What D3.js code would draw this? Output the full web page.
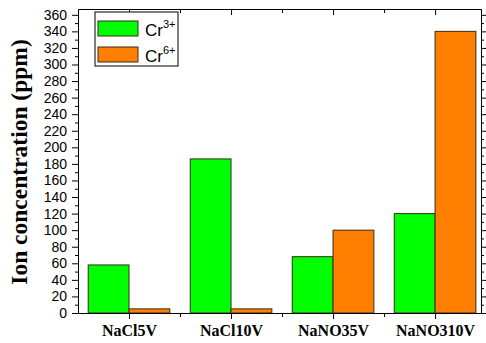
<!DOCTYPE html>
<html>
<head>
<meta charset="utf-8">
<script src="https://cdn.jsdelivr.net/npm/d3@7"></script>
<style>
  body { margin: 0; background: #fff; }
  .tick text { font-family: "Liberation Sans", Arial, sans-serif; font-size: 14px; }
</style>
</head>
<body>
<div id="chart"></div>
<script>
const categories = ['NaCl5V', 'NaCl10V', 'NaNO35V', 'NaNO310V'];
const cr3 = [58, 186, 68, 120];
const cr6 = [5, 5, 100, 340];
const yTicks = d3.range(0, 361, 20);

const width = 486;
const height = 343;
const margin = { left: 78, right: 5, top: 9, bottom: 30 };

const svg = d3.select('#chart')
  .append('svg')
  .attr('width', width)
  .attr('height', height);

// x is continuous so ticks fall on the category centres and halfway between
const x = d3.scaleLinear()
  .domain([-0.5, 3.45])
  .range([margin.left, width - margin.right]);

const y = d3.scaleLinear()
  .domain([0, 367])
  .range([height - margin.bottom, margin.top]);

const bw = x(0.4) - x(0);

// bars
const series = [
  { name: '3+', values: cr3, color: '#00ff00', off: -0.4 },
  { name: '6+', values: cr6, color: '#ff8000', off: 0 },
];

series.forEach(function(s) {
  svg.append('g')
    .selectAll('rect')
    .data(s.values)
    .enter().append('rect')
      .attr('x', function(d, i) { return x(i + s.off); })
      .attr('y', function(d) { return y(d); })
      .attr('width', bw)
      .attr('height', function(d) { return y(0) - y(d); })
      .attr('fill', s.color)
      .attr('stroke', '#3a2a1a')
      .attr('stroke-width', 1);
});

// axes
const yMinor = d3.range(10, 361, 20);
const xMajor = d3.range(0, categories.length);
const xMinor = [0.5, 1.5, 2.5];

svg.append('g')
  .attr('transform', 'translate(' + margin.left + ',0)')
  .call(d3.axisLeft(y).tickValues(yTicks).tickSize(6).tickPadding(5).tickSizeOuter(0))
  .call(function(g) { g.select('.domain').attr('stroke', '#000'); });

svg.append('g')
  .attr('transform', 'translate(' + margin.left + ',0)')
  .call(d3.axisLeft(y).tickValues(yMinor).tickSize(3).tickFormat('').tickSizeOuter(0))
  .call(function(g) { g.select('.domain').remove(); });

const xr = width - margin.right;
svg.append('g')
  .attr('transform', 'translate(' + xr + ',0)')
  .call(d3.axisRight(y).tickValues(yTicks).tickSize(5).tickFormat('').tickSizeOuter(0));
svg.append('g')
  .attr('transform', 'translate(' + xr + ',0)')
  .call(d3.axisRight(y).tickValues(yMinor).tickSize(3).tickFormat('').tickSizeOuter(0))
  .call(function(g) { g.select('.domain').remove(); });

const yb = height - margin.bottom;
svg.append('g')
  .attr('transform', 'translate(0,' + yb + ')')
  .call(d3.axisBottom(x).tickValues(xMajor).tickSize(6).tickPadding(6).tickSizeOuter(0)
    .tickFormat(function(d) { return categories[d]; }))
  .call(function(g) {
    g.selectAll('text')
      .style('font-family', '"Liberation Serif", "Times New Roman", serif')
      .style('font-size', '16px')
      .style('font-weight', 'bold');
  });
svg.append('g')
  .attr('transform', 'translate(0,' + yb + ')')
  .call(d3.axisBottom(x).tickValues(xMinor).tickSize(4).tickFormat('').tickSizeOuter(0))
  .call(function(g) { g.select('.domain').remove(); });

svg.append('g')
  .attr('transform', 'translate(0,' + margin.top + ')')
  .call(d3.axisBottom(x).tickValues(xMajor).tickSize(6).tickFormat('').tickSizeOuter(0));
svg.append('g')
  .attr('transform', 'translate(0,' + margin.top + ')')
  .call(d3.axisBottom(x).tickValues(xMinor).tickSize(4).tickFormat('').tickSizeOuter(0))
  .call(function(g) { g.select('.domain').remove(); });

// y title
svg.append('text')
  .attr('transform', 'translate(27,162) rotate(-90)')
  .attr('text-anchor', 'middle')
  .style('font-family', '"Liberation Serif", "Times New Roman", serif')
  .style('font-size', '23.5px')
  .style('font-weight', 'bold')
  .text('Ion concentration (ppm)');

// legend
const legend = svg.append('g').attr('transform', 'translate(95,12)');
legend.append('rect')
  .attr('width', 83)
  .attr('height', 54)
  .attr('fill', '#fff')
  .attr('stroke', '#000')
  .attr('stroke-width', 1);

series.forEach(function(s, i) {
  const row = legend.append('g').attr('transform', 'translate(3,' + (9 + i * 26) + ')');
  row.append('rect')
    .attr('width', 40)
    .attr('height', 15)
    .attr('fill', s.color)
    .attr('stroke', '#3a2a1a');
  const t = row.append('text')
    .attr('x', 47)
    .attr('y', 15)
    .style('font-family', '"Liberation Sans", Arial, sans-serif')
    .style('font-size', '17px');
  t.append('tspan').text('Cr');
  t.append('tspan')
    .attr('dy', -8)
    .style('font-size', '11px')
    .text(s.name);
});
</script>
</body>
</html>
